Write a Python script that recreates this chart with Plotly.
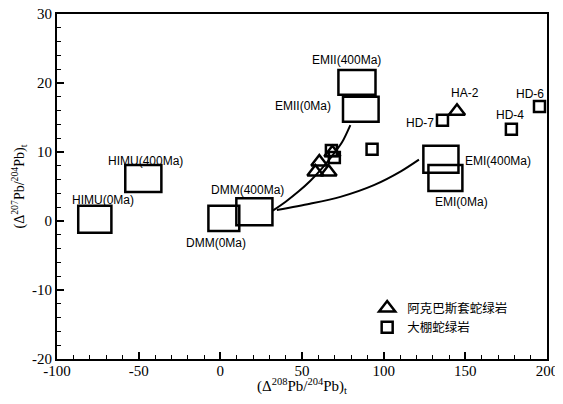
import plotly.graph_objects as go

# ---------------- data ----------------
res_names = ["HIMU(0Ma)", "HIMU(400Ma)", "DMM(0Ma)", "DMM(400Ma)",
             "EMII(0Ma)", "EMII(400Ma)", "EMI(0Ma)", "EMI(400Ma)"]
res_x0 = [-87.0, -58.2, -7.3, 9.8, 75.1, 72.3, 127.4, 124.3]
res_x1 = [-66.7, -36.1, 11.6, 31.9, 96.9, 95.0, 148.2, 145.8]
res_y0 = [-1.7, 4.2, -1.45, -0.6, 14.4, 18.3, 4.35, 7.0]
res_y1 = [2.2, 8.1, 2.2, 3.3, 18.0, 21.9, 8.1, 10.9]
res_label_x = [-71.6, -45.9, -2.4, 16.6, 50.8, 77.2, 147.6, 170.0]
res_label_y = [3.0, 8.7, -3.2, 4.5, 16.6, 23.3, 2.8, 8.7]

tri_x = [58.2, 60.6, 66.3, 68.6, 144.9]
tri_y = [7.1, 8.55, 7.1, 9.9, 15.9]
sq_x = [68.0, 69.8, 92.9, 136.0, 178.2, 195.4]
sq_y = [10.2, 9.2, 10.4, 14.6, 13.3, 16.6]

sample_labels = ["HA-2", "HD-7", "HD-4", "HD-6"]
sample_label_x = [150.0, 122.2, 177.6, 189.8]
sample_label_y = [18.5, 14.2, 15.4, 18.4]

curve1_x = [32.1, 40.0, 48.0, 55.0, 61.0, 68.0, 74.5, 79.6]
curve1_y = [1.5, 2.8, 4.3, 5.8, 7.3, 9.3, 11.4, 13.9]
curve2_x = [34.6, 54.9, 73.5, 94.0, 110.5, 121.6]
curve2_y = [1.6, 2.5, 3.5, 5.2, 7.2, 8.9]

x_ticks = [-100, -50, 0, 50, 100, 150, 200]
y_ticks = [-20, -10, 0, 10, 20, 30]

legend_names = ["阿克巴斯套蛇绿岩", "大棚蛇绿岩"]

# ---------------- figure ----------------
fig = go.Figure()

fig.add_trace(go.Scatter(x=curve1_x, y=curve1_y, mode="lines",
                         line=dict(color="black", width=2, shape="spline", smoothing=0.8),
                         showlegend=False, hoverinfo="skip"))
fig.add_trace(go.Scatter(x=curve2_x, y=curve2_y, mode="lines",
                         line=dict(color="black", width=2, shape="spline", smoothing=0.8),
                         showlegend=False, hoverinfo="skip"))

fig.add_trace(go.Scatter(x=tri_x, y=tri_y, mode="markers", name=legend_names[0],
                         marker=dict(symbol="triangle-up-open", size=14, color="black",
                                     line=dict(width=2.5, color="black"))))
fig.add_trace(go.Scatter(x=sq_x, y=sq_y, mode="markers", name=legend_names[1],
                         marker=dict(symbol="square-open", size=11, color="black",
                                     line=dict(width=2.5, color="black"))))

for x0, x1, y0, y1 in zip(res_x0, res_x1, res_y0, res_y1):
    fig.add_shape(type="rect", xref="x", yref="y", x0=x0, x1=x1, y0=y0, y1=y1,
                  line=dict(color="black", width=2.5), fillcolor="rgba(0,0,0,0)")

for name, lx, ly in zip(res_names, res_label_x, res_label_y):
    fig.add_annotation(x=lx, y=ly, text=name, showarrow=False, xref="x", yref="y",
                       font=dict(family="Liberation Sans, Arial", size=12, color="black"))
for name, lx, ly in zip(sample_labels, sample_label_x, sample_label_y):
    fig.add_annotation(x=lx, y=ly, text=name, showarrow=False, xref="x", yref="y",
                       font=dict(family="Liberation Sans, Arial", size=12, color="black"))

serif = "Liberation Serif, Times New Roman, serif"
# the page body adds an 8px margin, so the figure is offset accordingly
fig.update_layout(
    width=555, height=388,
    margin=dict(l=49, r=16, t=6, b=37),
    paper_bgcolor="white", plot_bgcolor="white",
    legend=dict(x=0.633, y=0.19, xanchor="left", yanchor="top",
                bgcolor="rgba(0,0,0,0)", tracegroupgap=0,
                font=dict(family="Noto Sans CJK SC", size=12.5, color="black")),
    xaxis=dict(range=[-100, 200], tickvals=x_ticks, ticktext=[str(v) for v in x_ticks],
               automargin=False, ticklabelstandoff=-3, ticklabeloverflow="allow",
               ticks="inside", ticklen=7, tickwidth=1.5, tickcolor="black",
               minor=dict(ticks="inside", dtick=10, ticklen=4, tickwidth=1.2, tickcolor="black"),
               showline=True, linecolor="black", linewidth=2, mirror=True,
               showgrid=False, zeroline=False,
               tickfont=dict(family=serif, size=15, color="black"),
               title=dict(text="(Δ<sup>208</sup>Pb/<sup>204</sup>Pb)<sub>t</sub>", standoff=2,
                          font=dict(family=serif, size=15, color="black"))),
    yaxis=dict(range=[-20, 30], tickvals=y_ticks, ticktext=[str(v) for v in y_ticks],
               automargin=False, ticklabeloverflow="allow",
               ticks="inside", ticklen=7, tickwidth=1.5, tickcolor="black",
               minor=dict(ticks="inside", dtick=2, ticklen=4, tickwidth=1.2, tickcolor="black"),
               showline=True, linecolor="black", linewidth=2, mirror=True,
               showgrid=False, zeroline=False,
               tickfont=dict(family=serif, size=15, color="black"),
               title=dict(text="(Δ<sup>207</sup>Pb/<sup>204</sup>Pb)<sub>t</sub>", standoff=4,
                          font=dict(family=serif, size=14, color="black"))),
)

fig.write_html("out.html")
